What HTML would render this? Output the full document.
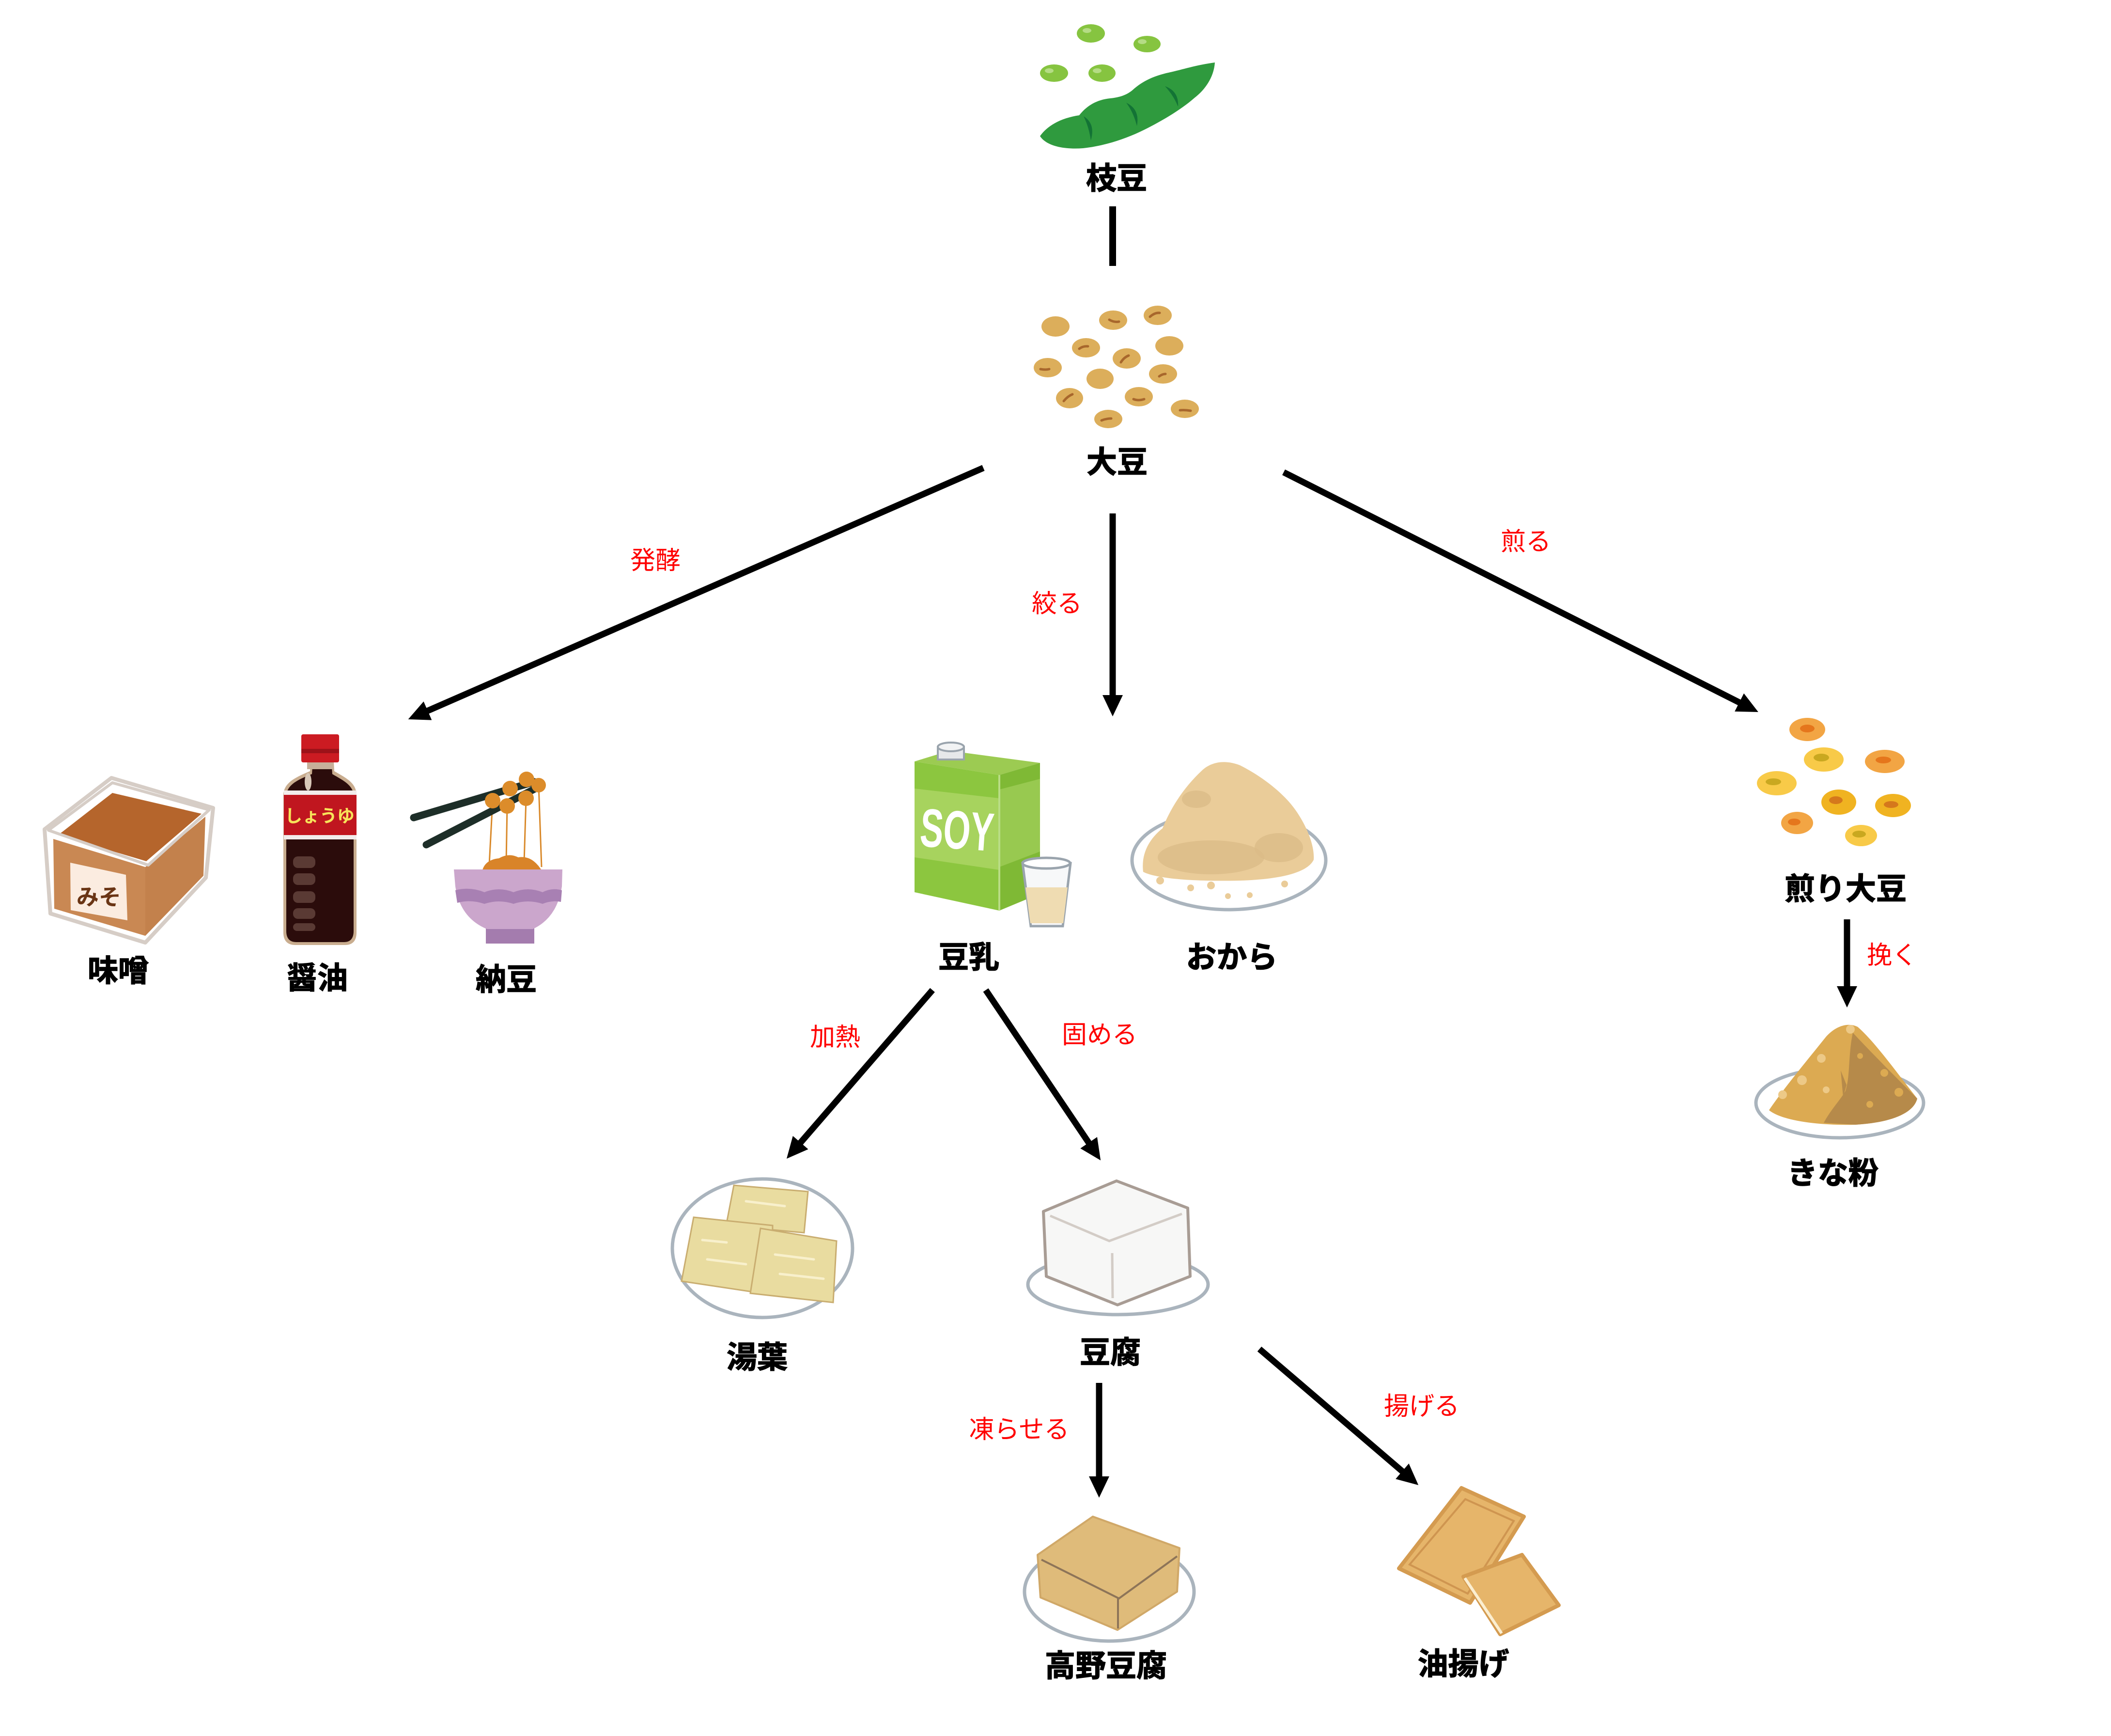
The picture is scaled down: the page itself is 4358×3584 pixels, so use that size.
<!DOCTYPE html>
<html><head><meta charset="utf-8"><style>
html,body{margin:0;padding:0;background:#fff;}
svg{display:block;}
.lb{font-family:"Liberation Sans","Noto Sans CJK JP",sans-serif;font-weight:bold;font-size:63px;fill:#000;stroke:#000;stroke-width:1.5px;text-anchor:middle;}
.rl{font-family:"Liberation Sans","Noto Sans CJK JP",sans-serif;font-size:52px;fill:#ff0000;text-anchor:middle;}
</style></head><body>
<svg width="4358" height="3584" viewBox="0 0 4358 3584" xmlns="http://www.w3.org/2000/svg">
<defs>
<marker id="ah" markerUnits="userSpaceOnUse" markerWidth="44" markerHeight="42" refX="24" refY="21" orient="auto">
<path d="M0,0 L44,21 L0,42 Z" fill="#000"/>
</marker>
</defs>
<rect width="4358" height="3584" fill="#fff"/>

<!-- ===== Edamame ===== -->
<g>
<ellipse cx="2252" cy="69" rx="29" ry="19" fill="#86c440"/>
<ellipse cx="2244" cy="63" rx="9" ry="5" fill="#b5dc85"/>
<ellipse cx="2368" cy="91" rx="28" ry="17" fill="#86c440"/>
<ellipse cx="2358" cy="86" rx="9" ry="5" fill="#b5dc85"/>
<ellipse cx="2176" cy="151" rx="29" ry="18" fill="#86c440"/>
<ellipse cx="2166" cy="146" rx="9" ry="5" fill="#b5dc85"/>
<ellipse cx="2275" cy="151" rx="28" ry="18" fill="#86c440"/>
<ellipse cx="2265" cy="146" rx="9" ry="5" fill="#b5dc85"/>
<path d="M2147,281 C2165,256 2195,243 2228,238 C2242,220 2262,206 2292,203 C2312,201 2326,196 2338,186 C2360,166 2385,156 2412,150 C2440,144 2470,134 2508,129 C2506,160 2487,186 2466,202 C2440,225 2402,248 2362,268 C2322,288 2276,302 2236,306 C2195,309 2160,301 2147,281 Z" fill="#2f9a3e"/>
<path d="M2237,240 Q2262,255 2252,290 Q2248,262 2237,240 Z" fill="#137335"/>
<path d="M2325,212 Q2354,226 2347,260 Q2340,232 2325,212 Z" fill="#137335"/>
<path d="M2405,178 Q2434,188 2432,220 Q2422,196 2405,178 Z" fill="#137335"/>
</g>
<text class="lb" x="2305" y="390">枝豆</text>
<line x1="2297" y1="426" x2="2297" y2="549" stroke="#000" stroke-width="14"/>

<!-- ===== Soybeans ===== -->
<g fill="#dcae5b">
<ellipse cx="2179" cy="674" rx="29" ry="21"/>
<ellipse cx="2298" cy="661" rx="29" ry="20"/>
<ellipse cx="2390" cy="651" rx="29" ry="20"/>
<ellipse cx="2242" cy="718" rx="29" ry="20"/>
<ellipse cx="2414" cy="714" rx="29" ry="20"/>
<ellipse cx="2163" cy="759" rx="29" ry="20"/>
<ellipse cx="2326" cy="740" rx="29" ry="21"/>
<ellipse cx="2271" cy="782" rx="28" ry="21"/>
<ellipse cx="2401" cy="772" rx="29" ry="20"/>
<ellipse cx="2208" cy="822" rx="28" ry="21"/>
<ellipse cx="2351" cy="819" rx="29" ry="20"/>
<ellipse cx="2446" cy="844" rx="29" ry="19"/>
<ellipse cx="2288" cy="865" rx="29" ry="19"/>
</g>
<g stroke="#a8672c" stroke-width="5" fill="none" stroke-linecap="round">
<path d="M2290,660 Q2300,666 2310,664"/>
<path d="M2374,654 Q2384,645 2394,646"/>
<path d="M2228,720 Q2236,714 2246,715"/>
<path d="M2148,762 Q2158,764 2166,762"/>
<path d="M2314,748 Q2320,738 2330,734"/>
<path d="M2393,777 Q2400,772 2406,772"/>
<path d="M2196,828 Q2204,818 2214,814"/>
<path d="M2340,824 Q2350,828 2362,824"/>
<path d="M2436,847 Q2446,846 2458,848"/>
<path d="M2274,868 Q2284,864 2294,864"/>
</g>
<text class="lb" x="2306" y="976">大豆</text>

<!-- ===== Connectors ===== -->
<g stroke="#000" stroke-width="13" fill="none">
<line x1="2030" y1="966" x2="861" y2="1477" marker-end="url(#ah)"/>
<line x1="2297" y1="1060" x2="2297" y2="1459" marker-end="url(#ah)"/>
<line x1="2650" y1="975" x2="3612" y2="1461" marker-end="url(#ah)"/>
<line x1="3813" y1="1898" x2="3813" y2="2060" marker-end="url(#ah)"/>
<line x1="1925" y1="2044" x2="1637" y2="2377" marker-end="url(#ah)"/>
<line x1="2035" y1="2044" x2="2261" y2="2379" marker-end="url(#ah)"/>
<line x1="2269" y1="2855" x2="2269" y2="3072" marker-end="url(#ah)"/>
<line x1="2600" y1="2785" x2="2913" y2="3053" marker-end="url(#ah)"/>
</g>

<!-- red labels -->
<text class="rl" x="1353" y="1175">発酵</text>
<text class="rl" x="2182" y="1264">絞る</text>
<text class="rl" x="3150" y="1136">煎る</text>
<text class="rl" x="3906" y="1990">挽く</text>
<text class="rl" x="1724" y="2159">加熱</text>
<text class="rl" x="2270" y="2154">固める</text>
<text class="rl" x="2104" y="2969">凍らせる</text>
<text class="rl" x="2935" y="2921">揚げる</text>

<!-- ===== Miso ===== -->
<g>
<path d="M92,1712 L230,1606 L440,1668 L425,1812 L300,1946 L104,1886 Z" fill="#fff" stroke="#d6cdc6" stroke-width="8" stroke-linejoin="round"/>
<path d="M110,1732 L300,1790 L300,1932 L112,1876 Z" fill="#c98853"/>
<path d="M300,1790 L424,1686 L420,1808 L300,1932 Z" fill="#c3814c"/>
<path d="M120,1724 L232,1637 L416,1680 L302,1778 Z" fill="#b5652c"/>
<path d="M100,1714 L232,1616 L432,1672 L306,1786 Z" fill="none" stroke="#d6cdc6" stroke-width="6" stroke-linejoin="round"/>
<path d="M145,1781 L260,1806 L263,1900 L146,1879 Z" fill="#fbece0"/>
<text x="204" y="1868" font-family="'Liberation Sans','Noto Sans CJK JP',sans-serif" font-weight="bold" font-size="46" fill="#6a3515" text-anchor="middle">みそ</text>
</g>
<text class="lb" x="244" y="2026">味噌</text>

<!-- ===== Soy sauce ===== -->
<g>
<path d="M641,1572 L689,1572 L690,1592 C712,1605 735,1615 736,1640 L736,1925 Q736,1951 712,1951 L610,1951 Q585,1951 585,1925 L585,1640 C587,1615 610,1605 640,1592 Z" fill="#c9ad8f"/>
<path d="M645,1582 L685,1582 L686,1598 C706,1610 729,1620 730,1642 L730,1922 Q730,1945 710,1945 L612,1945 Q591,1945 591,1922 L591,1642 C593,1620 614,1610 644,1598 Z" fill="#2b0c0b"/>
<rect x="634" y="1570" width="54" height="18" fill="#c7b09a"/>
<ellipse cx="636" cy="1614" rx="7" ry="18" fill="#d8c8b8"/>
<rect x="586" y="1632" width="150" height="9" fill="#f2eceb"/>
<rect x="586" y="1641" width="150" height="83" fill="#c0161f"/>
<rect x="586" y="1724" width="150" height="9" fill="#f2eceb"/>
<text x="660" y="1697" font-family="'Liberation Sans','Noto Sans CJK JP',sans-serif" font-weight="bold" font-size="36" fill="#f7e35a" text-anchor="middle">しょうゆ</text>
<rect x="622" y="1516" width="78" height="58" rx="4" fill="#cc1b22"/>
<rect x="622" y="1546" width="78" height="9" fill="#9d1219"/>
<g fill="#5a3a34">
<rect x="605" y="1768" width="46" height="24" rx="10"/>
<rect x="605" y="1803" width="46" height="24" rx="10"/>
<rect x="605" y="1840" width="46" height="24" rx="10"/>
<rect x="605" y="1875" width="46" height="22" rx="10"/>
<rect x="605" y="1906" width="46" height="16" rx="8"/>
</g>
</g>
<text class="lb" x="655" y="2041">醤油</text>

<!-- ===== Natto ===== -->
<g>
<g stroke="#d9892a" stroke-width="3">
<line x1="1017" y1="1653" x2="1010" y2="1785"/>
<line x1="1047" y1="1664" x2="1045" y2="1780"/>
<line x1="1086" y1="1648" x2="1082" y2="1780"/>
<line x1="1112" y1="1621" x2="1118" y2="1790"/>
</g>
<g stroke="#1d2e28" stroke-width="15" stroke-linecap="round">
<line x1="854" y1="1688" x2="1103" y2="1614"/>
<line x1="880" y1="1744" x2="1111" y2="1625"/>
</g>
<g fill="#dc8c2a">
<circle cx="1087" cy="1609" r="16"/><circle cx="1053" cy="1628" r="16"/>
<circle cx="1017" cy="1653" r="16"/><circle cx="1047" cy="1664" r="16"/>
<circle cx="1086" cy="1648" r="16"/><circle cx="1112" cy="1621" r="15"/>
</g>
<path d="M995,1800 Q1000,1775 1030,1772 Q1050,1760 1070,1770 Q1100,1765 1120,1800 Z" fill="#d98429"/>
<rect x="1003" y="1905" width="100" height="43" fill="#a47cae"/>
<path d="M937,1795 L1161,1795 L1160,1830 Q1150,1895 1100,1918 L1005,1918 Q950,1895 940,1830 Z" fill="#cba6cc"/>
<path d="M940,1838 Q970,1830 1000,1842 Q1030,1830 1060,1842 Q1090,1830 1120,1842 Q1140,1832 1160,1838 L1158,1862 Q1140,1858 1120,1866 Q1090,1856 1060,1866 Q1030,1856 1000,1866 Q970,1856 944,1864 Z" fill="#a880b3"/>
</g>
<text class="lb" x="1045" y="2044">納豆</text>

<!-- ===== Soy milk ===== -->
<g>
<path d="M1888,1572 L1960,1550 L2147,1575 L2063,1600 Z" fill="#9ccb52"/>
<path d="M1888,1572 L2063,1600 L2063,1880 L1888,1842 Z" fill="#8cc63f"/>
<path d="M1888,1628 L2063,1648 L2063,1796 L1888,1770 Z" fill="#a7d35e"/>
<path d="M2063,1600 L2147,1575 L2147,1845 L2063,1880 Z" fill="#7fb935"/>
<path d="M2063,1630 L2147,1608 L2147,1758 L2063,1790 Z" fill="#98c950"/>
<line x1="2063" y1="1600" x2="2063" y2="1880" stroke="#b9dd86" stroke-width="4"/>
<rect x="1936" y="1542" width="54" height="26" fill="#e6e8ea" stroke="#9aa4ad" stroke-width="4"/>
<ellipse cx="1963" cy="1542" rx="27" ry="9" fill="#f2f3f4" stroke="#9aa4ad" stroke-width="4"/>
<text x="1900" y="1752" font-family="'Liberation Sans',sans-serif" font-weight="bold" font-size="112" fill="#fff" textLength="152" lengthAdjust="spacingAndGlyphs" transform="rotate(4 1975 1710)">SOY</text>
<path d="M2111,1782 L2210,1782 L2194,1912 L2128,1912 Z" fill="#f7f8f9" stroke="#9aa4ad" stroke-width="5"/>
<path d="M2117,1832 L2204,1832 L2195,1906 L2127,1906 Z" fill="#efdcb2"/>
<ellipse cx="2160" cy="1782" rx="49" ry="11" fill="#fff" stroke="#9aa4ad" stroke-width="5"/>
</g>
<text class="lb" x="2000" y="1998">豆乳</text>

<!-- ===== Okara ===== -->
<g>
<ellipse cx="2537" cy="1776" rx="200" ry="102" fill="#fff" stroke="#aab4bd" stroke-width="7"/>
<path d="M2360,1800 C2355,1760 2375,1730 2400,1710 C2420,1660 2450,1620 2480,1592 C2500,1572 2530,1568 2560,1580 C2600,1600 2640,1630 2665,1660 C2690,1690 2715,1740 2712,1775 C2700,1800 2650,1815 2560,1818 C2470,1820 2390,1815 2360,1800 Z" fill="#eacc99"/>
<ellipse cx="2500" cy="1770" rx="110" ry="35" fill="#dbbb87" opacity="0.8"/>
<ellipse cx="2640" cy="1750" rx="50" ry="30" fill="#dbbb87" opacity="0.8"/>
<ellipse cx="2470" cy="1650" rx="30" ry="18" fill="#dbbb87" opacity="0.8"/>
<g fill="#eacc99"><circle cx="2395" cy="1818" r="8"/><circle cx="2458" cy="1833" r="7"/><circle cx="2500" cy="1828" r="8"/><circle cx="2535" cy="1850" r="6"/><circle cx="2580" cy="1848" r="6"/><circle cx="2652" cy="1825" r="7"/></g>
</g>
<text class="lb" x="2543" y="1998">おから</text>

<!-- ===== Roasted soybeans ===== -->
<g>
<ellipse cx="3731" cy="1506" rx="37" ry="24" fill="#f2a544"/><ellipse cx="3731" cy="1504" rx="15" ry="8" fill="#e5761c"/>
<ellipse cx="3765" cy="1568" rx="41" ry="25" fill="#f8ca48"/><ellipse cx="3760" cy="1564" rx="16" ry="8" fill="#c9a820"/>
<ellipse cx="3891" cy="1572" rx="41" ry="24" fill="#f2a544"/><ellipse cx="3888" cy="1569" rx="16" ry="7" fill="#e5761c"/>
<ellipse cx="3668" cy="1617" rx="41" ry="25" fill="#f8ca48"/><ellipse cx="3661" cy="1614" rx="16" ry="7" fill="#c9a820"/>
<ellipse cx="3796" cy="1656" rx="36" ry="26" fill="#f0b321"/><ellipse cx="3790" cy="1652" rx="14" ry="8" fill="#d5781c"/>
<ellipse cx="3908" cy="1663" rx="37" ry="24" fill="#f0b321"/><ellipse cx="3904" cy="1661" rx="15" ry="7" fill="#d5781c"/>
<ellipse cx="3710" cy="1699" rx="33" ry="23" fill="#f2a544"/><ellipse cx="3704" cy="1697" rx="13" ry="7" fill="#e5761c"/>
<ellipse cx="3842" cy="1725" rx="33" ry="22" fill="#f8ca48"/><ellipse cx="3838" cy="1722" rx="14" ry="7" fill="#c9a820"/>
</g>
<text class="lb" x="3810" y="1857">煎り大豆</text>

<!-- ===== Kinako ===== -->
<g>
<ellipse cx="3798" cy="2277" rx="173" ry="72" fill="#fff" stroke="#aab4bd" stroke-width="7"/>
<path d="M3652,2292 C3680,2250 3730,2190 3770,2140 C3790,2118 3815,2110 3835,2120 C3870,2150 3920,2220 3958,2268 C3950,2300 3900,2318 3830,2322 C3760,2324 3680,2315 3652,2292 Z" fill="#dcaa52"/>
<path d="M3825,2132 C3860,2170 3920,2230 3958,2268 C3950,2300 3900,2318 3830,2322 L3765,2318 C3780,2290 3800,2270 3810,2252 C3820,2220 3815,2180 3825,2132 Z" fill="#b68a4a"/>
<path d="M3800,2210 L3812,2240 L3805,2265 Z" fill="#b68a4a"/>
<g fill="#edc987"><circle cx="3760" cy="2185" r="9"/><circle cx="3720" cy="2230" r="10"/><circle cx="3680" cy="2260" r="9"/><circle cx="3770" cy="2250" r="7"/><circle cx="3820" cy="2125" r="9"/></g>
<g fill="#dcaa52"><circle cx="3890" cy="2215" r="8"/><circle cx="3920" cy="2255" r="9"/><circle cx="3860" cy="2280" r="7"/><circle cx="3840" cy="2180" r="6"/></g>
</g>
<text class="lb" x="3784" y="2444">きな粉</text>

<!-- ===== Yuba ===== -->
<g>
<ellipse cx="1574" cy="2577" rx="186" ry="143" fill="#fff" stroke="#aab4bd" stroke-width="7"/>
<path d="M1515,2447 L1668,2460 L1660,2545 L1499,2530 Z" fill="#e9dca0" stroke="#c9ad70" stroke-width="3"/>
<path d="M1432,2513 L1595,2530 L1593,2673 L1407,2645 Z" fill="#e9dca0" stroke="#c9ad70" stroke-width="3"/>
<path d="M1570,2536 L1727,2562 L1720,2689 L1549,2670 Z" fill="#e9dca0" stroke="#c9ad70" stroke-width="3"/>
<g stroke="#f8f0cc" stroke-width="5" stroke-linecap="round">
<line x1="1450" y1="2560" x2="1500" y2="2565"/><line x1="1460" y1="2600" x2="1540" y2="2610"/>
<line x1="1600" y1="2590" x2="1680" y2="2600"/><line x1="1610" y1="2630" x2="1700" y2="2640"/>
<line x1="1540" y1="2480" x2="1620" y2="2490"/>
</g>
</g>
<text class="lb" x="1563" y="2824">湯葉</text>

<!-- ===== Tofu ===== -->
<g>
<ellipse cx="2308" cy="2652" rx="186" ry="62" fill="#fff" stroke="#aab4bd" stroke-width="7"/>
<path d="M2154,2501 L2305,2438 L2452,2494 L2457,2635 L2307,2694 L2160,2635 Z" fill="#f7f7f6" stroke="#a89c94" stroke-width="6" stroke-linejoin="round"/>
<path d="M2168,2510 L2290,2562 L2440,2506" fill="none" stroke="#d3ccc6" stroke-width="5"/>
<line x1="2296" y1="2587" x2="2297" y2="2680" stroke="#d3ccc6" stroke-width="5"/>
</g>
<text class="lb" x="2292" y="2814">豆腐</text>

<!-- ===== Koya tofu ===== -->
<g>
<ellipse cx="2290" cy="3286" rx="175" ry="102" fill="#fff" stroke="#aab4bd" stroke-width="7"/>
<path d="M2256,3131 L2142,3210 L2148,3298 L2307,3365 L2430,3286 L2435,3196 Z" fill="#dfbb7a" stroke="#d0a868" stroke-width="4" stroke-linejoin="round"/>
<path d="M2150,3220 L2310,3300 L2430,3213" fill="none" stroke="#8d7458" stroke-width="4"/>
<line x1="2308" y1="3300" x2="2308" y2="3362" stroke="#8d7458" stroke-width="4"/>
</g>
<text class="lb" x="2283" y="3461">高野豆腐</text>

<!-- ===== Aburaage ===== -->
<g>
<path d="M3017,3072 L3146,3131 L3035,3309 L2888,3238 Z" fill="#e6b56a" stroke="#d49b50" stroke-width="8" stroke-linejoin="round"/>
<path d="M3025,3095 L3125,3140 L3030,3290 L2910,3230 Z" fill="none" stroke="#cf9550" stroke-width="4"/>
<path d="M3142,3210 L3218,3314 L3097,3374 L3021,3255 Z" fill="#e6b56a" stroke="#d49b50" stroke-width="8" stroke-linejoin="round"/>
<path d="M3024,3258 L3100,3372" stroke="#fbeed0" stroke-width="6"/>
</g>
<text class="lb" x="3021" y="3457">油揚げ</text>
</svg>
</body></html>
